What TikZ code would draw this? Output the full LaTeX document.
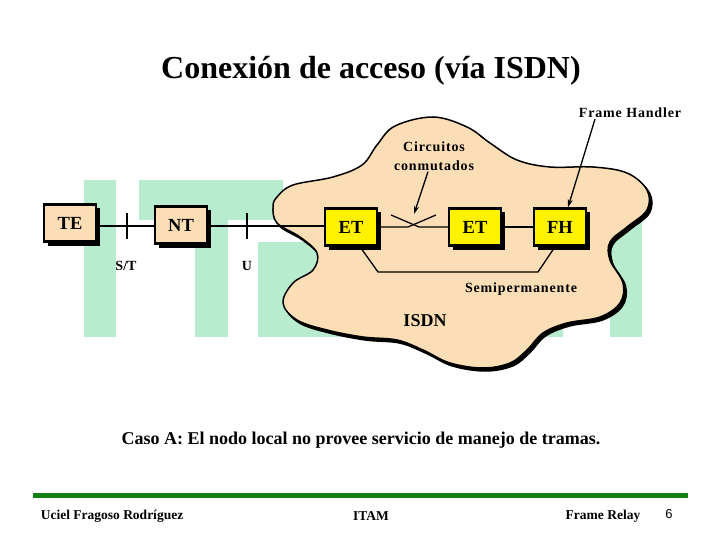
\documentclass[tikz,border=0pt]{standalone}
\usepackage{fontspec}
\setmainfont{Liberation Serif}
\newfontfamily\spacedfont[LetterSpace=6]{Liberation Serif}
\newfontfamily\pagefont{Liberation Sans}
\usetikzlibrary{positioning,shadows,arrows.meta}

\definecolor{itamgreen}{RGB}{184,236,206}
\definecolor{cloudpeach}{RGB}{251,221,182}
\definecolor{rulegreen}{RGB}{18,128,18}

\tikzset{
  unitbox/.style={draw, line width=2.5pt, minimum width=52pt, minimum height=37pt, inner sep=0pt,
    font=\fontsize{18.5}{20}\selectfont\bfseries,
    drop shadow={shadow xshift=4pt, shadow yshift=-4pt, fill=black, opacity=1}},
  wire/.style={line width=1.3pt},
  pointer/.style={line width=1.3pt, -{Stealth[length=8pt,width=5pt]}},
  smalllabel/.style={font=\spacedfont\fontsize{14}{19}\selectfont\bfseries, align=center, inner sep=1pt},
  footlabel/.style={font=\fontsize{13.5}{16}\selectfont\bfseries, inner sep=0pt},
}

% outline of the ISDN cloud
\newcommand\cloudpath{plot[smooth cycle, tension=0.6] coordinates {
  (277,197) (293,185) (333,177) (362,165) (377,145) (395,126) (433,117) (467,127)
  (490,143) (517,160) (550,167) (593,167) (627,173) (647,190) (647,210) (627,227)
  (610,242) (610,260) (623,283) (620,303) (600,317) (567,323) (543,333) (527,350)
  (510,363) (483,368) (450,363) (423,350) (397,340) (363,337) (327,330) (297,320)
  (283,303) (293,283) (313,270) (317,253) (300,237) (277,223) (273,207)}}

\begin{document}
\begin{tikzpicture}[x=1pt, y=-1pt]
  \useasboundingbox (0,0) rectangle (720,540);

  % ITAM letters in the background
  \fill[itamgreen] (84,180) rectangle (116,337);
  \fill[itamgreen] (139,180) rectangle (283,220);
  \fill[itamgreen] (195,180) rectangle (228,337);
  \fill[itamgreen] (258,242) rectangle (563,337);
  \fill[itamgreen] (610,218) rectangle (642,337);

  % the cloud with its shadow
  \filldraw[black, line width=1.5pt, shift={(2.5,3)}] \cloudpath;
  \draw[line width=1.5pt, fill=cloudpeach] \cloudpath;

  \node[font=\fontsize{32}{36}\selectfont\bfseries] (title) at (371,71) {Conexión de acceso (vía ISDN)};

  % equipment
  \node[unitbox, fill=cloudpeach] (te) at (70,223) {TE};
  \node[unitbox, fill=cloudpeach] (nt) at (181,225) {NT};
  \node[unitbox, fill=yellow] (et1) at (351,227) {ET};
  \node[unitbox, fill=yellow] (et2) at (475,227) {ET};
  \node[unitbox, fill=yellow] (fh) at (560,227) {FH};

  % reference points S/T and U
  \coordinate (stTick) at (127,226);
  \coordinate (uTick) at (247,226);
  \draw[wire] (te.east |- stTick) -- (nt.west |- stTick);
  \draw[wire] (nt.east |- uTick) -- (et1.west |- uTick);
  \draw[wire] ([yshift=13pt]stTick) -- ([yshift=-13pt]stTick);
  \draw[wire] ([yshift=13pt]uTick) -- ([yshift=-13pt]uTick);
  \node[font=\fontsize{14}{16}\selectfont\bfseries] (stlabel) at (126,266) {S/T};
  \node[font=\fontsize{14}{16}\selectfont\bfseries] (ulabel) at (247,266) {U};

  % switched circuit
  \coordinate (swA) at (408,227);
  \coordinate (swAend) at (436,215);
  \coordinate (swB) at (419,227);
  \coordinate (swBend) at (391,215);
  \draw[wire] (et1.east) -- (swA) -- (swAend);
  \draw[wire] (swBend) -- (swB) -- (et2.west);
  \draw[wire] (et2.east) -- (fh.west);

  % semipermanent circuit
  \coordinate (semiL) at (378,272);
  \coordinate (semiR) at (538,272);
  \draw[wire] ([xshift=9pt]et1.south) -- (semiL) -- (semiR) -- ([xshift=-5pt]fh.south);
  \node[smalllabel] (semi) at (521,289) {Semipermanente};
  \node[font=\fontsize{18}{20}\selectfont\bfseries] (isdn) at (425,321) {ISDN};

  % notes with arrows
  \node[smalllabel] (circ) at (434,156) {Circuitos\\conmutados};
  \coordinate (swTip) at (414,214);
  \draw[pointer] ([xshift=-6pt]circ.south) -- (swTip);
  \node[smalllabel] (fhnote) at (630,113) {Frame Handler};
  \draw[pointer] ([xshift=-35pt]fhnote.south) -- ([xshift=8pt]fh.north);

  \node[font=\fontsize{18}{20}\selectfont\bfseries] (caso) at (361,440) {Caso A: El nodo local no provee servicio de manejo de tramas.};

  % footer
  \draw[rulegreen, line width=5pt] (33,495) -- (688,495);
  \node[footlabel] (author) at (112,516) {Uciel Fragoso Rodríguez};
  \node[footlabel] (itam) at (371,516) {ITAM};
  \node[footlabel] (course) at (603,516) {Frame Relay};
  \node[font=\pagefont\fontsize{13}{15}\selectfont, inner sep=0pt] (page) at (669,514) {6};
\end{tikzpicture}
\end{document}
